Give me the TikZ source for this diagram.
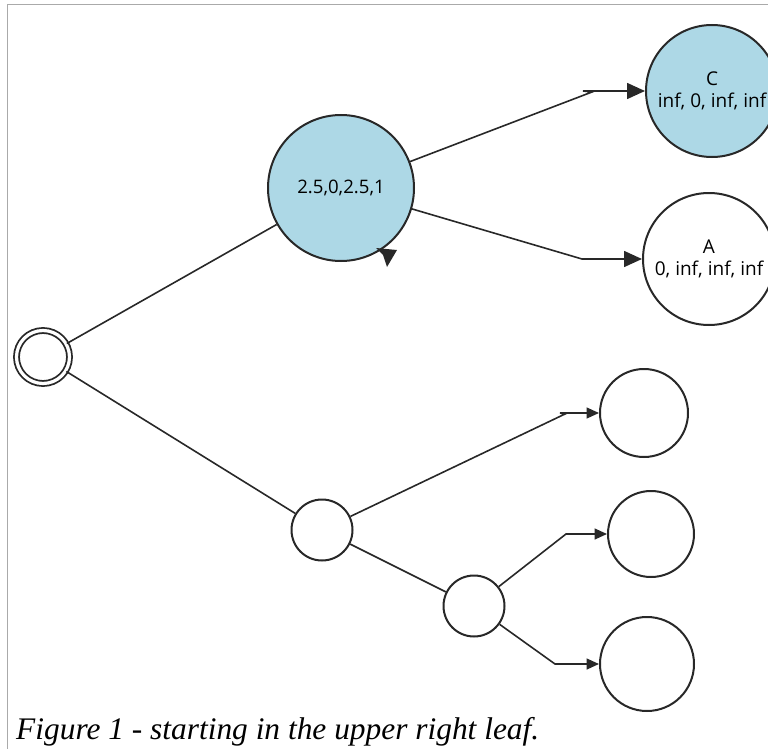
\documentclass[tikz,border=0pt]{standalone}
\usepackage{fontspec}
\setmainfont{Liberation Serif}
\newfontfamily\labelfont{Open Sans}
\usetikzlibrary{arrows.meta}
\definecolor{nodeblue}{RGB}{173,216,230}
\definecolor{ink}{RGB}{40,40,40}
\definecolor{framegray}{RGB}{170,170,170}

\begin{document}
\begin{tikzpicture}[x=1pt,y=-1pt,
  state/.style={circle,draw=ink,line width=2pt,inner sep=0pt,align=center,
    font=\labelfont\fontsize{19}{22}\selectfont},
  visited/.style={state,fill=nodeblue},
  link/.style={draw=ink,line width=1.6pt},
  bigtip/.style={-{Triangle[length=18pt,width=16pt]}},
  smalltip/.style={-{Triangle[length=12.5pt,width=11pt]}},
]
\useasboundingbox (0,0) rectangle (768,749);

% page frame
\draw[framegray,line width=1pt] (7,749) -- (7,5) -- (768,5);

% tree nodes
\node[state,double,double distance=3.2pt,line width=1.8pt,minimum size=53pt] (root) at (43,357) {};
\node[visited,minimum size=146pt,font=\labelfont\fontsize{18.6}{22}\selectfont] (mid) at (341,188) {2.5,0,2.5,1};
\node[visited,minimum size=132pt] (c) at (712,91) {C\\inf, 0, inf, inf};
\node[state,minimum size=132pt] (a) at (709,259) {A\\0, inf, inf, inf};
\node[state,minimum size=61pt] (low) at (322,530) {};
\node[state,minimum size=61pt] (lower) at (474,606) {};
\node[state,minimum size=88pt] (leafa) at (644,413) {};
\node[state,minimum size=86pt] (leafb) at (651,534) {};
\node[state,minimum size=94pt] (leafc) at (647,664) {};

% bend points of the connectors
\coordinate (kc1) at (592,92);
\coordinate (kc2) at (583,91);
\coordinate (ka) at (582,259);
\coordinate (k1a) at (565,414);
\coordinate (k1b) at (560,413);
\coordinate (k2) at (566,534);
\coordinate (k3) at (555,664);

% connectors
\draw[link] (root) -- (mid);
\draw[link] (root) -- (low);
\draw[link] (low) -- (lower);
\draw[link,bigtip] (mid) -- (kc1) -- (kc2) -- (c);
\draw[link,bigtip] (mid) -- (ka) -- (a);
\draw[link,smalltip] (low) -- (k1a) -- (k1b) -- (leafa);
\draw[link,smalltip] (lower) -- (k2) -- (leafb);
\draw[link,smalltip] (lower) -- (k3) -- (leafc);

% stray arrow tip on the rim of the middle node
\fill[ink] (376,248) -- (397,250) -- (387,267) -- (383,255) -- cycle;

% caption
\node[anchor=base west,inner sep=0pt,font=\itshape\fontsize{31.4}{36}\selectfont] (cap) at (16,739)
  {Figure 1 - starting in the upper right leaf.};
\end{tikzpicture}
\end{document}
